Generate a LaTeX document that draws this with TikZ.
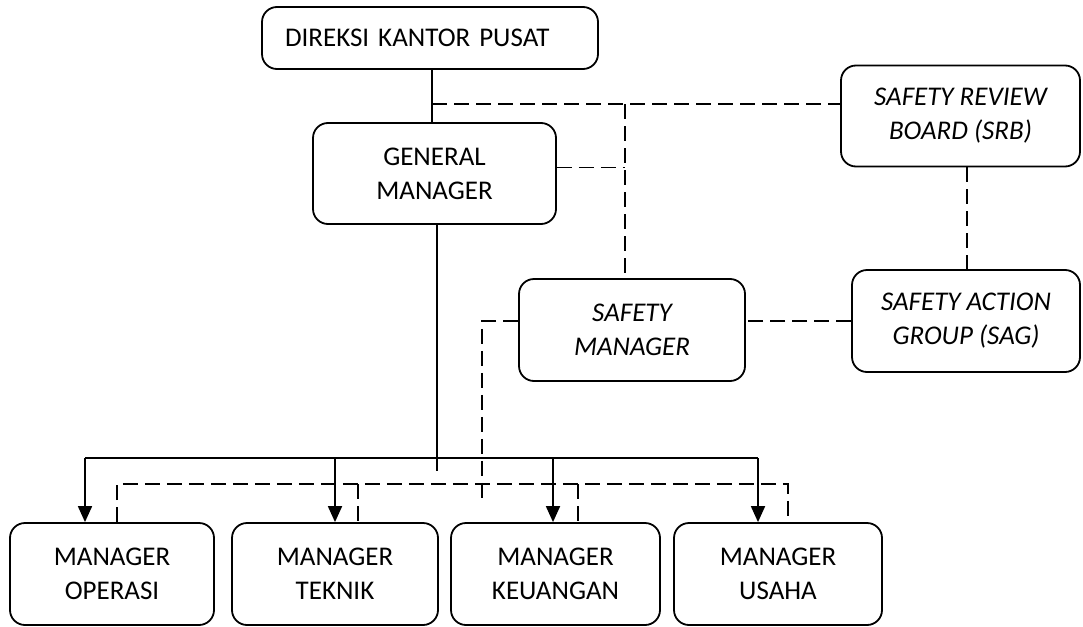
\documentclass[tikz,border=0pt]{standalone}
\usepackage{fontspec}
\setmainfont{Carlito}
\usetikzlibrary{arrows.meta}
\begin{document}
\begin{tikzpicture}[x=1pt,y=-1pt,
  box/.style={draw,line width=1.8pt,rounded corners=15pt,align=center,inner sep=0pt,
    font=\fontsize{27}{34}\selectfont},
  ibox/.style={box,font=\fontsize{27}{34}\selectfont\itshape},
  dsh/.style={line width=1.6pt,dash pattern=on 15pt off 7pt},
  sol/.style={line width=1.8pt},
  arr/.style={line width=1.8pt,-{Triangle[length=16pt,width=14pt]}}]
\useasboundingbox (0,0) rectangle (1083,626);
% nodes
\node[box,minimum width=336pt,minimum height=62pt,text width=290pt,align=left,inner xsep=23pt] (dir) at (430,38) {DIREKSI KANTOR PUSAT};
\node[box,minimum width=243pt,minimum height=101pt] (gm) at (434.5,173.5) {GENERAL\\MANAGER};
\node[ibox,minimum width=239pt,minimum height=101pt] (srb) at (960.5,116) {SAFETY REVIEW\\BOARD (SRB)};
\node[ibox,minimum width=226pt,minimum height=102pt] (sm) at (632,330) {SAFETY\\MANAGER};
\node[ibox,minimum width=228pt,minimum height=102pt] (sag) at (966,321) {SAFETY ACTION\\GROUP (SAG)};
\node[box,minimum width=204pt,minimum height=102pt] (op) at (112,574) {MANAGER\\OPERASI};
\node[box,minimum width=206pt,minimum height=102pt] (tk) at (335,574) {MANAGER\\TEKNIK};
\node[box,minimum width=209pt,minimum height=102pt] (ku) at (555.5,574) {MANAGER\\KEUANGAN};
\node[box,minimum width=208pt,minimum height=102pt] (us) at (778,574) {MANAGER\\USAHA};
% helper coordinates
\coordinate (j1) at (432,104);
\coordinate (j2) at (625,104);
\coordinate (j3) at (967,200);
\coordinate (j4) at (482,321);
\coordinate (j5) at (482,498);
\coordinate (j6) at (437,471);
\coordinate (a1) at (85,458);
\coordinate (a2) at (335,458);
\coordinate (a3) at (553,458);
\coordinate (a4) at (758,458);
\coordinate (d1) at (117,484);
\coordinate (d2) at (358,484);
\coordinate (d3) at (578,484);
\coordinate (d4) at (788,484);
% solid lines
\draw[sol] (j1 |- dir.south) -- (j1 |- gm.north);
\draw[sol] (j6 |- gm.south) -- (j6);
\draw[sol] (a1) -- (a4);
\draw[arr] (a1) -- (a1 |- op.north);
\draw[arr] (a2) -- (a2 |- tk.north);
\draw[arr] (a3) -- (a3 |- ku.north);
\draw[arr] (a4) -- (a4 |- us.north);
% dashed lines
\draw[dsh] (j1) -- (j1 -| srb.west);
\draw[dsh] (j2) -- (j2 |- sm.north);
\draw[dsh] ([yshift=6pt]gm.east) -- ([yshift=6pt]gm.east -| j2);
\draw[dsh] (j3 |- srb.south) -- (j3 |- sag.north);
\draw[dsh] (sag.west) -- (sag.west -| sm.east);
\draw[dsh] (j4 -| sm.west) -- (j4) -- (j5);
\draw[dsh] (d1 |- op.north) -- (d1) -- (d4) -- (d4 |- us.north);
\draw[dsh] (d2) -- (d2 |- tk.north);
\draw[dsh] (d3) -- (d3 |- ku.north);
\end{tikzpicture}
\end{document}
